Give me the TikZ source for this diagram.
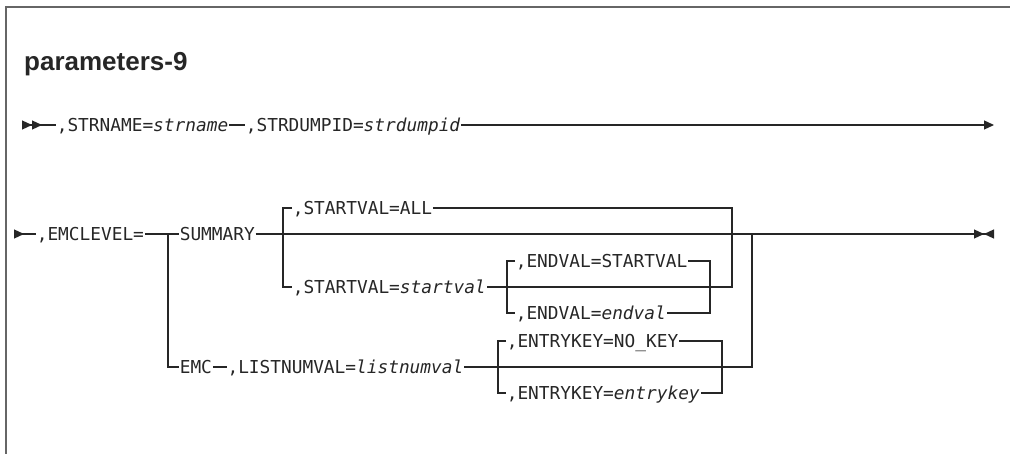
\documentclass[tikz,border=0pt]{standalone}
\usepackage{fontspec}
\usetikzlibrary{arrows.meta,positioning}
\newfontfamily\railfont{DejaVu Sans Mono}[ItalicFont={DejaVu Sans Mono Oblique}]
\newfontfamily\titlefont{Liberation Sans}
\colorlet{rrink}{black!85}
\tikzset{
  rr text/.style={
    anchor=west,
    inner sep=0.6pt,
    text height=12.5pt,
    text depth=0pt,
    text=rrink,
    font=\fontsize{17.8}{20}\railfont,
  },
  rr line/.style={line width=1.2pt, draw=rrink},
  rr frame/.style={line width=2pt, draw=black!60},
  rr begin/.style={rr line, {Triangle[reversed,length=10pt,width=9pt]}-},
  rr begin twice/.style={rr line,
    {Triangle[reversed,length=10pt,width=9pt]Triangle[reversed,length=10pt,width=9pt]}-},
  rr more/.style={rr line, -{Triangle[length=10pt,width=9pt]}},
  rr stop/.style={rr line,
    -{Triangle[length=10pt,width=9pt]Triangle[reversed,length=10pt,width=9pt]}},
}

\begin{document}
\begin{tikzpicture}[x=1pt,y=-1pt]
  \useasboundingbox (0,0) rectangle (1010,454);
  \draw[rr frame] (6,454) -- (6,7) -- (1010,7);

  \node[anchor=base west, inner sep=0pt, text=rrink,
    font=\fontsize{26}{30}\titlefont\bfseries] (title) at (24,71) {parameters-9};

  % first line
  \coordinate (in1) at (22,125);
  \node[rr text] (strname) at (56,125) {,STRNAME=\textit{strname}};
  \node[rr text,right=16pt of strname] (strdump) {,STRDUMPID=\textit{strdumpid}};
  \coordinate (out1) at (994,125);

  \draw[rr begin twice] (in1) -- (strname);
  \draw[rr line] (strname) -- (strdump);
  \draw[rr more] (strdump) -- (out1);

  % second line
  \coordinate (in2) at (14,234);
  \node[rr text] (emclevel) at (36,234) {,EMCLEVEL=};
  \coordinate (j1) at (168,234);
  \node[rr text] (summary) at (179,234) {SUMMARY};
  \coordinate (j2) at (283,234);
  \node[rr text] (startall) at (292,208) {,STARTVAL=ALL};
  \node[rr text] (startv) at (292,287) {,STARTVAL=\textit{startval}};
  \coordinate (j3) at (507,287);
  \node[rr text] (endsv) at (515,261) {,ENDVAL=STARTVAL};
  \node[rr text] (endv) at (515,313) {,ENDVAL=\textit{endval}};
  \coordinate (k3) at (710,287);
  \coordinate (k2) at (732,287);
  \coordinate (j4) at (752,234);
  \coordinate (out2) at (994,234);

  \node[rr text] (emc) at (179,367) {EMC};
  \node[rr text,right=14pt of emc] (listnum) {,LISTNUMVAL=\textit{listnumval}};
  \coordinate (j5) at (498,367);
  \node[rr text] (keyno) at (506,341) {,ENTRYKEY=NO\_KEY};
  \node[rr text] (keyv) at (506,393) {,ENTRYKEY=\textit{entrykey}};
  \coordinate (k5) at (722,367);

  \draw[rr begin] (in2) -- (emclevel);
  \draw[rr line] (emclevel) -- (summary);
  \draw[rr stop] (summary) -- (out2);

  \draw[rr line] (startall.west) -| (j2 |- startv) -- (startv.west);
  \draw[rr line] (startall) -| (k2) -- (startv);
  \draw[rr line] (endsv.west) -| (j3 |- endv) -- (endv.west);
  \draw[rr line] (endsv) -| (k3 |- endv) -- (endv);

  \draw[rr line] (j1) |- (emc);
  \draw[rr line] (emc) -- (listnum);
  \draw[rr line] (listnum) -| (j4);
  \draw[rr line] (keyno.west) -| (j5 |- keyv) -- (keyv.west);
  \draw[rr line] (keyno) -| (k5 |- keyv) -- (keyv);
\end{tikzpicture}
\end{document}
